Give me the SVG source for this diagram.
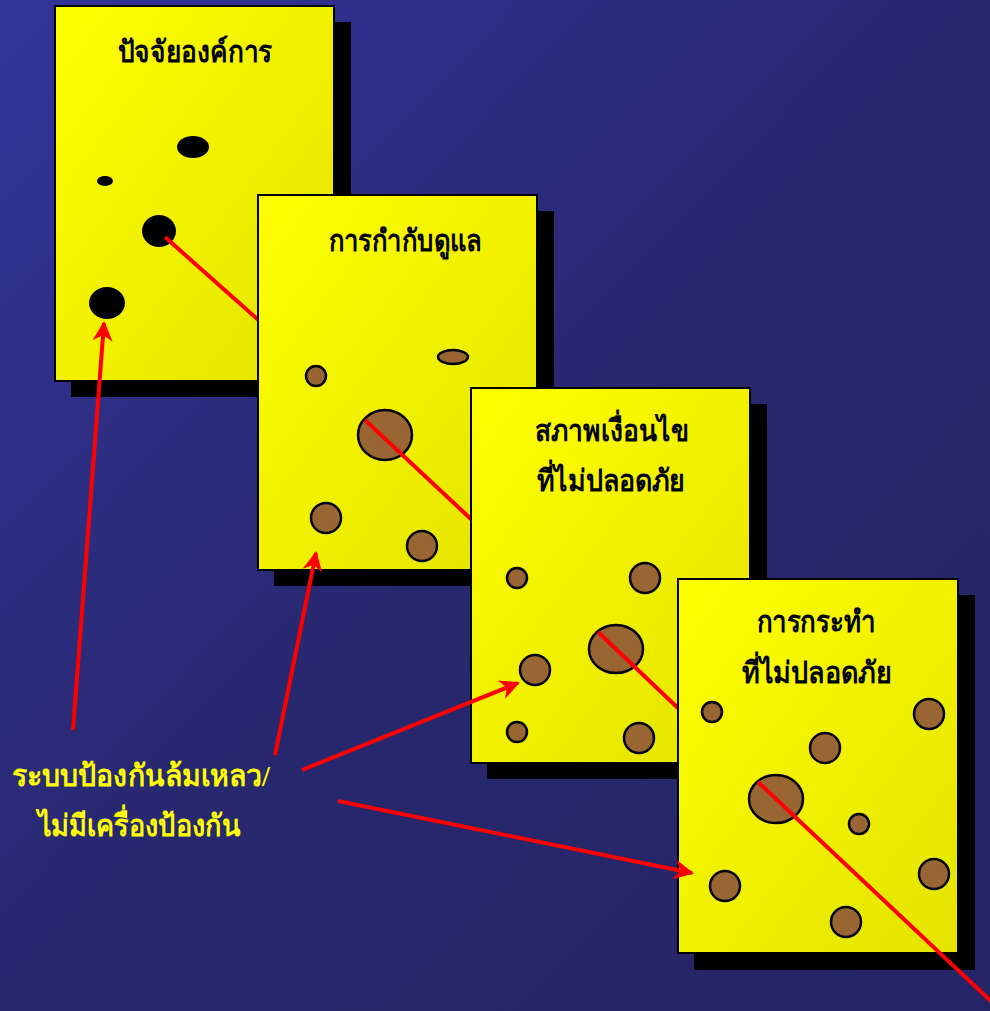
<svg xmlns="http://www.w3.org/2000/svg" width="990" height="1011" viewBox="0 0 990 1011">
<defs>
<linearGradient id="bg" x1="0" y1="0" x2="1" y2="1">
<stop offset="0" stop-color="#34349a"/>
<stop offset="0.5" stop-color="#28286f"/>
<stop offset="1" stop-color="#252466"/>
</linearGradient>
<linearGradient id="card" x1="0" y1="0" x2="1" y2="1">
<stop offset="0" stop-color="#ffff00"/>
<stop offset="1" stop-color="#e3e300"/>
</linearGradient>
<marker id="ah" viewBox="0 0 10 10" refX="9" refY="5" markerWidth="6" markerHeight="5" orient="auto" markerUnits="strokeWidth">
<path d="M0,0 L10,5 L0,10 L3,5 Z" fill="#ff0000"/>
</marker>
<style>
.shadow{fill:#000}
.card{fill:url(#card);stroke:#000;stroke-width:2}
.hole{fill:#000}
.bh{fill:#996633;stroke:#000;stroke-width:2.5}
.red{stroke:#ff0000;stroke-width:4;fill:none}
.title{font-family:"Liberation Serif","Noto Sans",serif;font-weight:bold;font-size:30px;fill:#000;text-anchor:middle}
.label{font-family:"Liberation Serif","Noto Sans",serif;font-weight:bold;font-size:30px;fill:#ffff00;text-anchor:middle}
</style>
</defs>
<rect width="990" height="1011" fill="url(#bg)"/>

<g id="card1">
<rect class="shadow" x="71" y="22" width="280" height="375"/>
<rect class="card" x="55" y="6" width="279" height="375"/>
<text class="title" x="195" y="62" textLength="155" lengthAdjust="spacingAndGlyphs">ปัจจัยองค์การ</text>
<ellipse class="hole" cx="193" cy="147" rx="16" ry="11"/>
<ellipse class="hole" cx="105" cy="181" rx="8" ry="5"/>
<ellipse class="hole" cx="159" cy="231" rx="17" ry="16"/>
<ellipse class="hole" cx="107" cy="303" rx="18" ry="16"/>
</g>
<g id="link1"><line class="red" x1="165" y1="237" x2="264" y2="325"/></g>

<g id="card2">
<rect class="shadow" x="274" y="211" width="280" height="375"/>
<rect class="card" x="258" y="195" width="279" height="375"/>
<text class="title" x="405" y="251" textLength="153" lengthAdjust="spacingAndGlyphs">การกำกับดูแล</text>
<circle class="bh" cx="316" cy="376" r="10"/>
<ellipse class="bh" cx="453" cy="357" rx="15" ry="7"/>
<ellipse class="bh" cx="385" cy="435" rx="27" ry="25"/>
<circle class="bh" cx="326" cy="518" r="15"/>
<circle class="bh" cx="422" cy="546" r="15"/>
</g>
<g id="link2"><line class="red" x1="365" y1="420" x2="472" y2="520"/></g>

<g id="card3">
<rect class="shadow" x="487" y="404" width="280" height="375"/>
<rect class="card" x="471" y="388" width="279" height="375"/>
<text class="title" x="612" y="441" textLength="154" lengthAdjust="spacingAndGlyphs">สภาพเงื่อนไข</text>
<text class="title" x="611" y="491" textLength="149" lengthAdjust="spacingAndGlyphs">ที่ไม่ปลอดภัย</text>
<circle class="bh" cx="517" cy="578" r="10"/>
<circle class="bh" cx="645" cy="578" r="15"/>
<ellipse class="bh" cx="616" cy="649" rx="27" ry="24"/>
<circle class="bh" cx="535" cy="670" r="15"/>
<circle class="bh" cx="517" cy="732" r="10"/>
<circle class="bh" cx="639" cy="738" r="15"/>
</g>
<g id="link3"><line class="red" x1="598" y1="632" x2="680" y2="710"/></g>

<g id="card4">
<rect class="shadow" x="694" y="595" width="281" height="375"/>
<rect class="card" x="678" y="579" width="280" height="374"/>
<text class="title" x="816" y="632" textLength="119" lengthAdjust="spacingAndGlyphs">การกระทำ</text>
<text class="title" x="817" y="683" textLength="150" lengthAdjust="spacingAndGlyphs">ที่ไม่ปลอดภัย</text>
<circle class="bh" cx="712" cy="712" r="10"/>
<circle class="bh" cx="929" cy="714" r="15"/>
<circle class="bh" cx="825" cy="748" r="15"/>
<ellipse class="bh" cx="776" cy="799" rx="27" ry="24"/>
<circle class="bh" cx="859" cy="824" r="10"/>
<circle class="bh" cx="725" cy="886" r="15"/>
<circle class="bh" cx="934" cy="874" r="15"/>
<circle class="bh" cx="846" cy="922" r="15"/>
</g>

<g id="connectors">
<line class="red" x1="758" y1="782" x2="993" y2="1003"/>
<line class="red" x1="73" y1="730" x2="104" y2="323" marker-end="url(#ah)"/>
<line class="red" x1="275" y1="755" x2="316" y2="553" marker-end="url(#ah)"/>
<line class="red" x1="302" y1="770" x2="518" y2="683" marker-end="url(#ah)"/>
<line class="red" x1="338" y1="801" x2="692" y2="873" marker-end="url(#ah)"/>
</g>

<g id="label">
<text class="label" x="141" y="786" textLength="258" lengthAdjust="spacingAndGlyphs">ระบบป้องกันล้มเหลว/</text>
<text class="label" x="139" y="836" textLength="203" lengthAdjust="spacingAndGlyphs">ไม่มีเครื่องป้องกัน</text>
</g>
</svg>
